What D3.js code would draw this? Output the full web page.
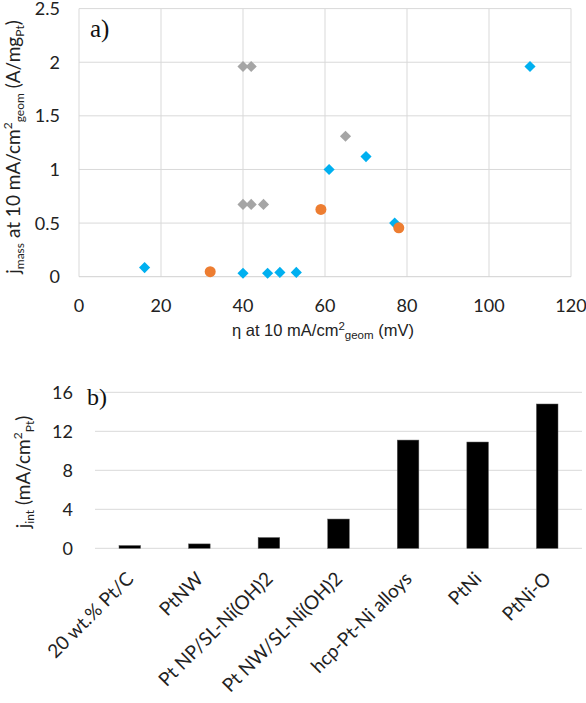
<!DOCTYPE html>
<html><head><meta charset="utf-8">
<script src="https://cdn.jsdelivr.net/npm/d3@7"></script>
<style>body{margin:0;background:#fff}svg{display:block}</style>
</head><body>
<svg id="c" width="586" height="703"></svg>
<script>
// ---- Panel a data ----
const blueX = [16, 40, 46, 49, 53, 61, 70, 77, 110];
const blueY = [0.085, 0.032, 0.032, 0.04, 0.04, 1.0, 1.12, 0.5, 1.96];
const orangeX = [32, 59, 78];
const orangeY = [0.047, 0.627, 0.456];
const grayX = [40, 42, 40, 42, 45, 65];
const grayY = [1.96, 1.96, 0.674, 0.674, 0.674, 1.31];
const aXTicks = [0, 20, 40, 60, 80, 100, 120];
const aYTicks = [0, 0.5, 1, 1.5, 2, 2.5];
const aYLabels = ["0", "0.5", "1", "1.5", "2", "2.5"];

// ---- Panel b data ----
const categories = ["20 wt.% Pt/C", "PtNW", "Pt NP/SL-Ni(OH)2", "Pt NW/SL-Ni(OH)2", "hcp-Pt-Ni alloys", "PtNi", "PtNi-O"];
const jint = [0.28, 0.45, 1.1, 3.0, 11.1, 10.9, 14.8];
const bYTicks = [0, 4, 8, 12, 16];

const svg = d3.select("#c");
const gridC = "#d9d9d9";
const tickFont = "Lato, 'Open Sans', sans-serif";
const FS = 18;
const TS = 19;

// ===== Panel a =====
const ax = d3.scaleLinear().domain([0, 120]).range([79, 571]);
const ay = d3.scaleLinear().domain([0, 2.5]).range([276.7, 8.6]);
const ga = svg.append("g");
ga.selectAll("line.vg").data(aXTicks).join("line")
  .attr("x1", d => ax(d)).attr("x2", d => ax(d)).attr("y1", ay(2.5)).attr("y2", ay(0))
  .attr("stroke", gridC).attr("stroke-width", 1);
ga.selectAll("line.hg").data(aYTicks).join("line")
  .attr("x1", ax(0)).attr("x2", ax(120)).attr("y1", d => ay(d)).attr("y2", d => ay(d))
  .attr("stroke", d => d === 0 ? "#d0d0d0" : gridC).attr("stroke-width", 1);

ga.selectAll("text.xt").data(aXTicks).join("text")
  .attr("x", d => ax(d)).attr("y", 312).attr("text-anchor", "middle")
  .attr("font-family", tickFont).attr("font-size", FS).attr("fill", "#222").text(d => d);
ga.selectAll("text.yt").data(aYTicks).join("text")
  .attr("x", 60).attr("y", d => ay(d) + 6.5).attr("text-anchor", "end")
  .attr("font-family", tickFont).attr("font-size", FS).attr("fill", "#222")
  .text((d, i) => aYLabels[i]);

const diamond = d3.symbol(d3.symbolSquare, 62);
ga.selectAll("path.gray").data(grayX.map((x, i) => [x, grayY[i]])).join("path")
  .attr("d", diamond).attr("fill", "#a5a5a5")
  .attr("transform", d => `translate(${ax(d[0])},${ay(d[1])}) rotate(45)`);
ga.selectAll("path.blue").data(blueX.map((x, i) => [x, blueY[i]])).join("path")
  .attr("d", diamond).attr("fill", "#00b0f0")
  .attr("transform", d => `translate(${ax(d[0])},${ay(d[1])}) rotate(45)`);
ga.selectAll("circle.or").data(orangeX.map((x, i) => [x, orangeY[i]])).join("circle")
  .attr("cx", d => ax(d[0])).attr("cy", d => ay(d[1])).attr("r", 5.5).attr("fill", "#ed7d31");

ga.append("text").attr("x", 90).attr("y", 37).attr("font-family", "'Liberation Serif', 'Times New Roman', serif")
  .attr("font-size", 25).attr("fill", "#111").text("a)");

// x title
const xt = ga.append("text").attr("x", 232).attr("y", 336)
  .attr("font-family", "'Liberation Sans', Arial, sans-serif").attr("font-size", 16.5).attr("fill", "#222");
xt.append("tspan").text("η at 10 mA/cm");
xt.append("tspan").attr("dy", -6).attr("font-size", 11.5).text("2");
xt.append("tspan").attr("dy", 9).attr("font-size", 11.5).text("geom");
xt.append("tspan").attr("dy", -3).text("  (mV)");

// y title
const yt = ga.append("text").attr("transform", "translate(20,147) rotate(-90)").attr("text-anchor", "middle")
  .attr("font-family", tickFont).attr("font-size", TS).attr("fill", "#222");
yt.append("tspan").text("j");
yt.append("tspan").attr("dy", 4).attr("font-size", 12).text("mass");
yt.append("tspan").attr("dy", -4).text(" at 10 mA/cm");
yt.append("tspan").attr("dy", -8).attr("font-size", 12).text("2");
yt.append("tspan").attr("dy", 12).attr("font-size", 12).text("geom");
yt.append("tspan").attr("dy", -4).text(" (A/mg");
yt.append("tspan").attr("dy", 4).attr("font-size", 12).text("Pt");
yt.append("tspan").attr("dy", -4).text(")");

// ===== Panel b =====
const bx = d3.scaleBand().domain(categories).range([95, 582]).padding(0);
const by = d3.scaleLinear().domain([0, 16]).range([548.3, 392.3]);
const gb = svg.append("g");
gb.selectAll("line.hg").data(bYTicks).join("line")
  .attr("x1", 95).attr("x2", 582).attr("y1", d => by(d)).attr("y2", d => by(d))
  .attr("stroke", gridC).attr("stroke-width", 1);
gb.selectAll("text.yt").data(bYTicks).join("text")
  .attr("x", 73).attr("y", d => by(d) + 6.5).attr("text-anchor", "end")
  .attr("font-family", tickFont).attr("font-size", FS).attr("fill", "#222").text(d => d);
const bw = bx.bandwidth() * 0.31;
gb.selectAll("rect").data(categories).join("rect")
  .attr("x", d => bx(d) + bx.bandwidth() / 2 - bw / 2)
  .attr("width", bw)
  .attr("y", (d, i) => by(jint[i]))
  .attr("height", (d, i) => by(0) - by(jint[i]))
  .attr("fill", "#000").attr("stroke", "#555").attr("stroke-width", 0.5);
gb.selectAll("text.cat").data(categories).join("text")
  .attr("transform", d => `translate(${bx(d) + bx.bandwidth() / 2 + 5},${580}) rotate(-45)`)
  .attr("text-anchor", "end")
  .attr("font-family", tickFont).attr("font-size", TS).attr("fill", "#222").text(d => d);

gb.append("text").attr("x", 87).attr("y", 405).attr("font-family", "'Liberation Serif', 'Times New Roman', serif")
  .attr("font-size", 24).attr("fill", "#111").text("b)");

const yb = gb.append("text").attr("transform", "translate(30,472) rotate(-90)").attr("text-anchor", "middle")
  .attr("font-family", tickFont).attr("font-size", TS).attr("fill", "#222");
yb.append("tspan").text("j");
yb.append("tspan").attr("dy", 4).attr("font-size", 12).text("int");
yb.append("tspan").attr("dy", -4).text(" (mA/cm");
yb.append("tspan").attr("dy", -8).attr("font-size", 12).text("2");
yb.append("tspan").attr("dy", 12).attr("font-size", 12).text("Pt");
yb.append("tspan").attr("dy", -4).text(")");
</script>
</body></html>
